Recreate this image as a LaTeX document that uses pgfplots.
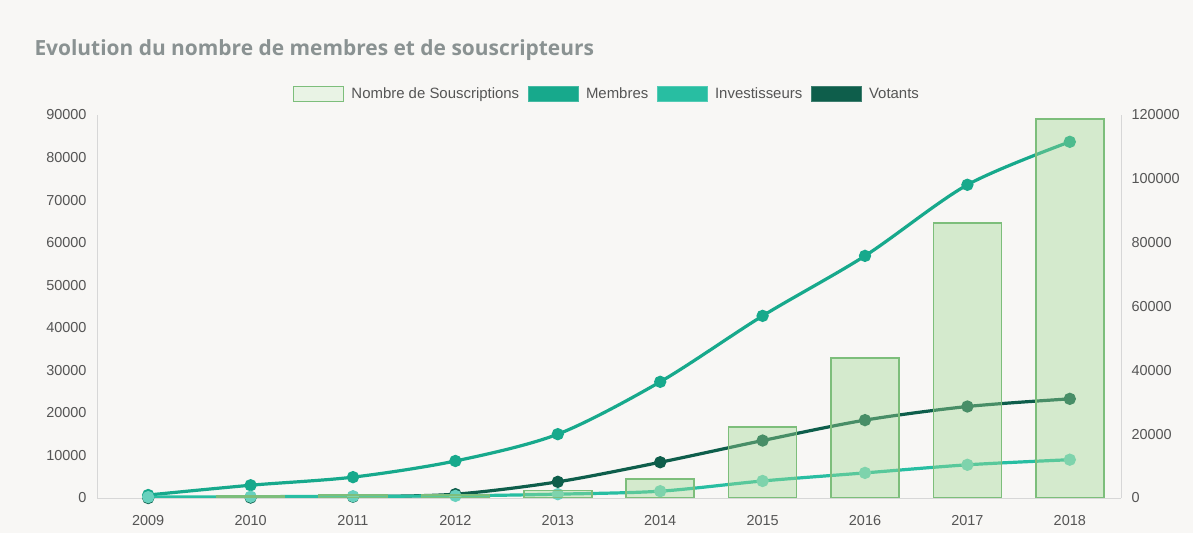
\documentclass[border=0pt]{standalone}
\usepackage{pgfplots}
\pgfplotsset{compat=1.18}
\usepackage{fontspec}
\setmainfont{Liberation Sans}
\newfontfamily\titlefont{Open Sans}
\definecolor{bgcol}{RGB}{248,247,245}
\definecolor{titlegray}{RGB}{138,146,146}
\definecolor{labgray}{RGB}{85,85,85}
\definecolor{axgray}{RGB}{215,215,215}
\definecolor{membres}{RGB}{23,169,140}
\definecolor{invest}{RGB}{40,190,162}
\definecolor{votants}{RGB}{14,94,75}
\definecolor{barfill}{RGB}{160,216,145}
\definecolor{baredge}{RGB}{125,190,123}

\pgfplotsset{
  base/.style={
    scale only axis, width=1024bp, height=383bp,
    at={(97bp,35bp)}, anchor=south west,
    xmin=-0.5, xmax=9.5, ymin=0,
    xtick={0,...,9}, xticklabels={2009,2010,2011,2012,2013,2014,2015,2016,2017,2018},
    major tick length=0pt,
    tick label style={font=\fontsize{14.5}{16}\selectfont, text=labgray},
    /pgf/number format/fixed,
    /pgf/number format/assume math mode=true,
    /pgf/number format/1000 sep={},
    scaled ticks=false,
    axis line style={draw=axgray, line width=0.8pt},
  },
}

\begin{document}
\begin{tikzpicture}
\path[fill=bgcol] (0,0) rectangle (1193bp,533bp);
\node[anchor=base west, text=titlegray, font=\titlefont\bfseries\fontsize{21}{25}\selectfont]
  at (31bp,477bp) {Evolution du nombre de membres et de souscripteurs};

% lignes (axe de gauche)
\begin{axis}[base,
  ymax=90000, ytick={0,10000,...,90000},
  axis x line*=bottom, axis y line*=left,
  yticklabel style={xshift=-7bp},
  xticklabel style={yshift=-14bp},
]
\addplot[membres, line width=3.2bp, smooth, mark=*, mark size=4.5bp] coordinates {
  (0,700) (1,3000) (2,4900) (3,8700) (4,15000) (5,27300) (6,42800) (7,56900) (8,73600) (9,83700)};
\addplot[votants, line width=3.2bp, smooth, mark=*, mark size=4.5bp] coordinates {
  (0,0) (1,100) (2,300) (3,900) (4,3800) (5,8400) (6,13500) (7,18300) (8,21500) (9,23300)};
\addplot[invest, line width=3.2bp, smooth, mark=*, mark size=4.5bp,
  mark options={fill=invest!70!white, draw=invest!70!white}] coordinates {
  (0,200) (1,300) (2,400) (3,500) (4,900) (5,1600) (6,4000) (7,5900) (8,7800) (9,9000)};
\end{axis}

% barres (axe de droite)
\begin{axis}[base,
  ymax=120000, ytick={0,20000,...,120000},
  axis x line=none, axis y line*=right,
  yticklabel style={xshift=7bp},
  legend columns=4,
  legend style={at={(0.498,1.055)}, anchor=center, draw=none, fill=none,
    font=\fontsize{15}{17}\selectfont, text=labgray,
    /tikz/every odd column/.append style={column sep=5bp},
    /tikz/every even column/.append style={column sep=7bp}},
]
\addplot[ybar, bar width=68bp, draw=baredge, line width=1.5pt, fill=barfill, fill opacity=0.4,
  legend image code/.code={\draw[draw=baredge, line width=1.5pt, fill=barfill!45!white] (0bp,-7.5bp) rectangle (50bp,7.5bp);}]
  coordinates {(1,600) (2,900) (3,1000) (4,2300) (5,5900) (6,22200) (7,43900) (8,86100) (9,118700)};
\addlegendentry{Nombre de Souscriptions}
\addlegendimage{legend image code/.code={\draw[draw=membres!80!white, line width=0.8pt, fill=membres] (0bp,-7.5bp) rectangle (50bp,7.5bp);}}
\addlegendentry{Membres}
\addlegendimage{legend image code/.code={\draw[draw=invest!80!white, line width=0.8pt, fill=invest] (0bp,-7.5bp) rectangle (50bp,7.5bp);}}
\addlegendentry{Investisseurs}
\addlegendimage{legend image code/.code={\draw[draw=votants!80!white, line width=0.8pt, fill=votants] (0bp,-7.5bp) rectangle (50bp,7.5bp);}}
\addlegendentry{Votants}
\end{axis}
\end{tikzpicture}
\end{document}
